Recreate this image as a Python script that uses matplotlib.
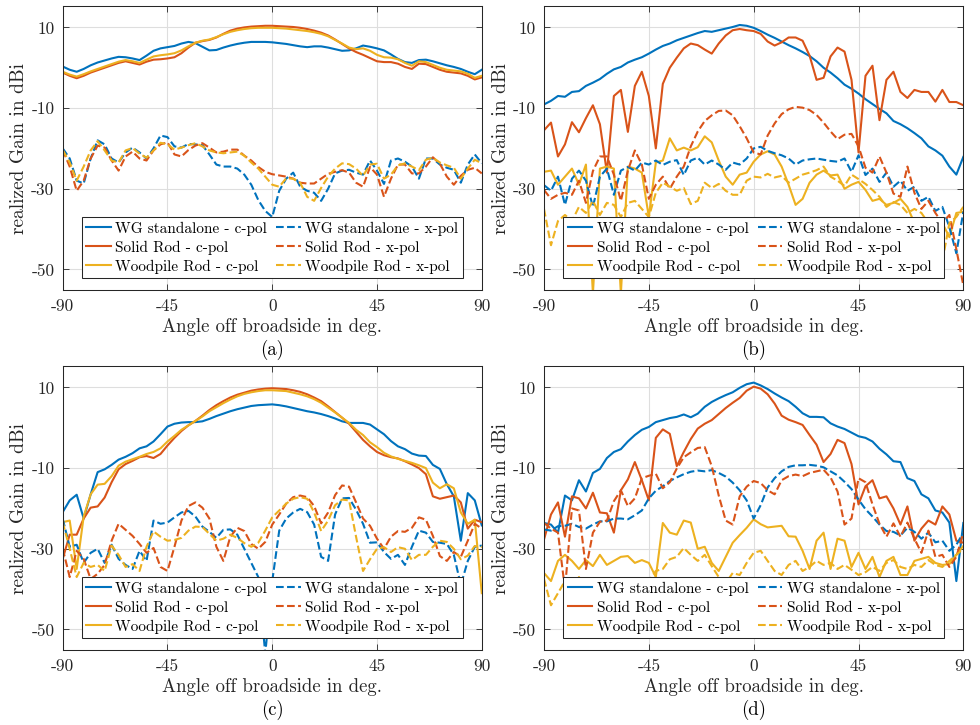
import numpy as np
import matplotlib
matplotlib.use("Agg")
import matplotlib.pyplot as plt

plt.rcParams['font.family'] = ['cmr10', 'DejaVu Serif']
plt.rcParams['mathtext.fontset'] = 'cm'
plt.rcParams['axes.unicode_minus'] = False
plt.rcParams['axes.formatter.use_mathtext'] = True

# angle grid (deg) shared by every curve
angle = np.arange(-90, 91, 3)

# ---- (a) ----
a_wg_c = [0.3, -0.5, -1.0, -0.3, 0.6, 1.3, 1.8, 2.3, 2.7, 2.6, 2.3, 1.9, 3.0, 4.2, 4.8, 5.1,
          5.4, 6.0, 6.4, 6.1, 5.2, 4.3, 4.4, 5.0, 5.5, 5.9, 6.2, 6.4, 6.4, 6.4, 6.3, 6.1,
          5.9, 5.6, 5.3, 5.1, 5.3, 5.3, 5.0, 4.6, 4.2, 4.3, 4.8, 5.5, 5.2, 4.8, 4.3, 3.3,
          2.2, 1.4, 1.2, 1.9, 2.0, 1.6, 1.1, 0.6, 0.2, -0.3, -1.0, -1.6, -0.5]
a_sr_c = [-1.2, -2.0, -2.6, -2.0, -1.2, -0.6, 0.0, 0.6, 1.2, 1.6, 1.2, 0.8, 1.5, 2.0, 2.1, 2.3,
          2.6, 3.6, 5.0, 6.2, 6.6, 6.9, 7.5, 8.4, 9.2, 9.7, 10.0, 10.2, 10.3, 10.4, 10.4, 10.3,
          10.2, 10.1, 9.9, 9.6, 9.2, 8.7, 8.0, 7.0, 5.9, 4.8, 3.9, 3.2, 2.4, 1.6, 1.4, 1.4,
          1.0, 0.2, -0.3, 1.0, 0.9, 0.2, -0.5, -1.0, -1.2, -1.4, -2.0, -2.9, -2.4]
a_wp_c = [-1.0, -1.7, -2.2, -1.6, -0.9, -0.3, 0.3, 0.9, 1.5, 1.9, 1.6, 1.2, 2.0, 2.8, 3.1, 3.3,
          3.6, 4.3, 5.3, 6.2, 6.7, 7.0, 7.6, 8.3, 8.9, 9.3, 9.6, 9.8, 9.9, 9.9, 9.9, 9.8,
          9.7, 9.5, 9.3, 9.1, 8.8, 8.4, 7.8, 6.9, 6.0, 5.0, 4.6, 4.8, 4.2, 3.2, 2.6, 2.5,
          2.1, 1.2, 0.5, 1.6, 1.4, 0.7, 0.0, -0.5, -0.7, -0.9, -1.5, -2.5, -2.0]
a_wg_x = [-20.0, -22.5, -28.0, -28.7, -22.5, -18.0, -19.0, -22.5, -23.5, -21.0, -19.8, -21.0, -22.5, -20.0, -16.8, -17.2,
          -19.5, -19.8, -18.9, -19.0, -19.2, -21.5, -24.0, -24.5, -24.5, -25.0, -26.5, -29.0, -32.8, -35.5, -37.0, -30.5,
          -27.5, -26.0, -29.5, -30.5, -31.0, -33.0, -30.0, -26.2, -25.5, -25.3, -26.0, -26.5, -23.0, -25.5, -28.8, -23.0,
          -22.5, -23.3, -24.5, -27.5, -22.5, -22.5, -24.0, -24.8, -25.3, -28.5, -24.0, -21.5, -23.7]
a_sr_x = [-20.4, -24.5, -30.5, -28.0, -22.5, -19.3, -19.8, -23.0, -25.5, -22.0, -20.8, -22.5, -23.0, -20.5, -19.0, -18.5,
          -21.5, -22.0, -20.4, -19.3, -18.7, -19.8, -21.0, -20.8, -20.3, -20.3, -21.8, -23.0, -24.6, -25.8, -26.4, -26.7,
          -27.0, -27.5, -28.5, -28.7, -28.7, -27.5, -26.3, -25.8, -25.4, -26.0, -28.5, -29.5, -24.6, -26.5, -32.0, -27.5,
          -24.0, -24.0, -26.2, -26.2, -24.5, -22.2, -23.8, -27.0, -29.0, -26.8, -25.3, -24.8, -26.2]
a_wp_x = [-20.4, -23.5, -28.0, -24.5, -20.5, -18.2, -20.5, -23.0, -23.5, -20.5, -19.9, -21.3, -22.3, -20.5, -18.6, -19.0,
          -20.3, -19.8, -19.2, -18.7, -19.5, -20.5, -21.0, -21.2, -21.0, -20.8, -21.8, -23.5, -25.0, -27.0, -29.0, -29.5,
          -27.4, -27.5, -28.5, -32.0, -33.0, -29.8, -27.0, -25.0, -23.7, -23.9, -25.0, -26.8, -24.0, -23.8, -27.5, -26.5,
          -24.2, -23.7, -24.5, -25.4, -22.8, -22.3, -23.5, -24.2, -24.8, -27.5, -25.0, -22.8, -23.7]

# ---- (b) ----
b_wg_c = [-9.1, -8.2, -7.0, -7.2, -6.0, -5.8, -4.5, -3.7, -2.8, -1.5, -0.4, 0.2, 1.3, 2.0, 2.6, 3.5,
          4.5, 5.4, 6.0, 6.8, 7.4, 8.0, 8.6, 9.1, 8.9, 9.3, 9.7, 10.1, 10.6, 10.4, 9.9, 9.1,
          8.2, 7.4, 6.5, 5.6, 4.8, 3.9, 2.9, 1.6, 0.0, -1.2, -2.6, -4.2, -5.2, -6.4, -7.8, -9.0,
          -10.2, -11.3, -13.2, -14.0, -15.0, -16.2, -17.5, -19.5, -20.5, -21.8, -24.5, -26.5, -22.1]
b_sr_c = [-15.5, -13.6, -22.0, -19.0, -13.5, -16.0, -12.5, -9.3, -14.0, -26.0, -7.0, -5.5, -15.9, -4.5, -1.0, -7.0,
          -20.0, -4.0, 0.0, 2.5, 4.8, 6.0, 5.6, 4.5, 3.5, 6.0, 8.0, 9.3, 9.6, 9.3, 9.1, 8.4,
          6.5, 5.5, 6.3, 7.5, 7.5, 6.7, 3.0, -3.0, -2.5, 2.8, 5.0, 4.0, -3.0, -21.0, -2.0, 0.5,
          -13.0, -3.0, -1.0, -6.0, -7.5, -5.5, -6.0, -6.0, -8.4, -5.5, -8.5, -8.5, -9.3]
b_wp_c = [-25.8, -25.5, -29.0, -27.0, -25.0, -29.0, -24.0, -56.0, -25.0, -24.5, -25.0, -56.0, -24.5, -25.0, -26.0, -37.0,
          -23.5, -23.0, -17.5, -20.5, -19.8, -20.5, -19.7, -17.0, -18.5, -23.0, -27.0, -29.0, -26.5, -26.0, -23.3, -21.5,
          -20.7, -21.5, -24.5, -29.0, -34.0, -32.5, -28.5, -26.5, -25.5, -26.7, -26.5, -30.0, -29.0, -28.3, -30.3, -33.0,
          -32.5, -34.0, -33.5, -32.5, -34.5, -38.5, -40.0, -39.0, -41.5, -38.5, -42.0, -36.0, -35.7]
b_wg_x = [-29.1, -30.5, -27.0, -34.0, -27.5, -25.5, -28.0, -34.5, -27.0, -25.0, -31.5, -25.5, -24.6, -25.5, -23.5, -24.0,
          -23.0, -24.1, -23.3, -22.9, -26.6, -23.0, -22.3, -24.0, -23.0, -24.0, -25.3, -23.5, -24.0, -22.5, -20.0, -19.6,
          -20.6, -21.2, -21.7, -22.5, -24.0, -23.0, -22.7, -22.5, -22.8, -23.1, -23.3, -22.5, -25.8, -21.7, -26.6, -25.0,
          -28.3, -26.0, -29.5, -28.0, -30.5, -29.5, -33.0, -32.0, -35.5, -34.5, -39.5, -46.0, -35.7]
b_sr_x = [-30.3, -32.5, -31.5, -31.0, -31.5, -28.0, -33.5, -25.6, -22.0, -22.0, -26.5, -33.0, -25.5, -20.5, -24.0, -32.5,
          -29.0, -27.0, -30.0, -27.0, -24.5, -19.5, -15.8, -13.2, -11.8, -10.7, -10.6, -11.8, -14.5, -17.5, -21.0, -21.5,
          -16.8, -13.8, -11.5, -10.3, -9.7, -9.9, -10.5, -11.7, -13.6, -15.8, -17.7, -16.6, -16.4, -19.5, -24.8, -26.0,
          -22.0, -26.0, -31.2, -32.0, -24.5, -31.0, -35.0, -33.0, -36.0, -38.5, -36.5, -45.0, -54.0]
b_wp_x = [-35.0, -44.0, -38.0, -36.5, -38.0, -34.5, -36.0, -33.0, -36.5, -33.5, -34.0, -37.0, -33.5, -33.0, -35.0, -37.0,
          -31.0, -28.5, -29.5, -30.5, -29.8, -33.8, -33.0, -28.5, -29.8, -28.8, -30.5, -31.5, -31.5, -28.0, -27.0, -27.2,
          -26.3, -27.2, -26.8, -28.5, -27.5, -26.5, -26.0, -25.4, -24.5, -27.0, -28.0, -29.3, -26.5, -27.6, -28.8, -30.3,
          -32.0, -34.5, -33.3, -34.0, -36.0, -35.0, -36.0, -38.5, -42.0, -48.0, -38.5, -37.0, -34.5]

# ---- (c) ----
c_wg_c = [-20.9, -18.0, -16.6, -22.5, -16.5, -11.0, -10.3, -9.2, -7.9, -7.2, -6.3, -5.1, -4.6, -3.4, -1.6, 0.3,
          1.0, 1.3, 1.4, 1.4, 1.6, 2.2, 2.9, 3.5, 4.1, 4.6, 5.0, 5.4, 5.6, 5.7, 5.8, 5.6,
          5.3, 4.9, 4.5, 4.1, 3.8, 3.4, 2.9, 2.3, 1.6, 1.2, 1.2, 1.2, 0.8, -0.4, -1.6, -3.3,
          -4.6, -5.3, -6.4, -6.9, -7.0, -9.2, -10.2, -14.0, -17.0, -28.0, -16.2, -18.0, -24.2]
c_sr_c = [-32.5, -26.5, -26.5, -22.5, -19.8, -19.5, -17.3, -13.5, -10.3, -9.0, -8.2, -7.3, -7.0, -7.5, -6.5, -4.4,
          -2.5, -0.8, 0.6, 1.7, 3.0, 4.4, 5.6, 6.6, 7.5, 8.2, 8.7, 9.2, 9.5, 9.7, 9.8, 9.7,
          9.6, 9.3, 8.9, 8.3, 7.5, 6.6, 5.3, 3.9, 2.5, 1.0, -1.0, -3.0, -4.6, -6.0, -6.8, -7.3,
          -7.6, -8.3, -9.1, -10.0, -11.5, -17.0, -17.6, -17.2, -16.8, -18.5, -25.0, -22.8, -23.4]
c_wp_c = [-23.4, -23.0, -35.0, -22.0, -16.5, -14.1, -13.9, -12.0, -9.4, -8.4, -7.8, -7.2, -6.5, -6.0, -5.1, -3.4,
          -2.0, -0.5, 0.6, 1.7, 2.8, 4.1, 5.1, 6.1, 7.0, 7.8, 8.4, 8.8, 9.1, 9.3, 9.3, 9.2,
          9.1, 8.7, 8.3, 7.8, 7.1, 6.2, 5.0, 3.8, 2.5, 1.2, -0.5, -1.8, -3.6, -4.8, -6.2, -7.1,
          -7.7, -8.2, -8.7, -9.3, -10.0, -13.6, -15.0, -14.0, -15.0, -21.0, -23.8, -22.8, -41.0]
c_wg_x = [-22.6, -29.5, -29.0, -33.5, -31.0, -30.0, -33.5, -29.0, -32.5, -34.0, -35.0, -30.5, -33.0, -23.0, -23.8, -23.5,
          -22.2, -21.0, -20.6, -22.0, -24.5, -25.8, -27.3, -25.3, -25.2, -26.5, -30.0, -33.5, -37.0, -56.0, -38.0, -25.5,
          -22.5, -21.0, -20.1, -20.9, -24.0, -32.0, -33.0, -21.5, -17.5, -17.4, -20.3, -23.8, -28.5, -28.4, -30.8, -32.5,
          -31.5, -34.0, -29.5, -25.5, -26.0, -28.3, -28.5, -28.8, -31.5, -39.0, -33.0, -29.5, -29.2]
c_sr_x = [-30.0, -37.0, -30.5, -32.5, -37.5, -36.2, -34.0, -28.0, -23.8, -25.3, -26.8, -28.8, -31.0, -29.8, -34.5, -35.5,
          -29.5, -23.0, -19.4, -18.5, -19.8, -22.5, -29.5, -33.0, -27.0, -24.8, -25.6, -28.8, -30.0, -28.3, -24.0, -21.5,
          -18.8, -17.2, -16.8, -17.2, -19.4, -23.7, -21.0, -16.7, -14.3, -14.6, -18.5, -22.5, -24.3, -27.5, -30.0, -27.0,
          -25.6, -25.8, -24.8, -22.2, -22.8, -26.8, -31.8, -33.0, -30.8, -32.0, -28.0, -23.8, -25.0]
c_wp_x = [-23.4, -30.0, -37.0, -33.5, -34.5, -34.0, -35.5, -29.2, -31.5, -34.5, -33.8, -35.5, -29.5, -25.7, -27.0, -28.0,
          -27.8, -27.3, -25.5, -24.5, -24.6, -26.3, -28.0, -27.5, -26.5, -27.3, -28.6, -29.5, -28.5, -25.5, -22.2, -20.5,
          -18.8, -17.6, -17.2, -17.6, -21.0, -25.6, -23.0, -19.2, -17.8, -18.0, -27.0, -35.5, -32.6, -30.0, -29.6, -30.8,
          -29.6, -30.0, -32.8, -31.5, -31.5, -29.5, -28.0, -28.3, -30.0, -32.6, -31.7, -29.3, -29.6]

# ---- (d) ----
d_wg_c = [-23.6, -24.0, -26.0, -16.8, -18.0, -13.0, -15.8, -11.2, -10.2, -7.5, -6.0, -5.3, -3.4, -1.8, -0.5, 0.2,
          1.4, 1.9, 2.4, 2.7, 3.3, 2.6, 3.5, 5.2, 6.4, 7.3, 8.1, 8.8, 9.9, 10.8, 11.2, 10.5,
          9.6, 8.5, 7.5, 6.6, 5.2, 3.6, 2.7, 2.7, 2.6, 1.1, 0.3, -0.3, -1.2, -2.1, -2.5, -3.4,
          -5.2, -6.6, -8.3, -8.5, -12.5, -13.2, -16.5, -17.5, -20.5, -21.0, -23.5, -38.0, -23.6]
d_sr_c = [-27.7, -21.5, -18.5, -27.0, -17.0, -17.5, -20.0, -16.1, -21.0, -21.2, -26.0, -15.5, -12.8, -8.5, -13.0, -18.0,
          -2.5, -0.4, -1.5, -9.5, -6.0, -2.8, -0.2, 1.0, 1.9, 3.4, 4.9, 6.2, 7.4, 9.2, 10.2, 9.7,
          8.3, 6.0, 3.0, 2.0, 1.4, 0.7, -1.8, -4.2, -8.5, -6.5, -3.0, -3.8, -9.0, -19.0, -14.5, -13.0,
          -17.5, -17.0, -20.0, -24.0, -19.5, -28.0, -25.0, -23.0, -24.0, -19.5, -21.5, -28.0, -28.5]
d_wp_c = [-36.0, -38.0, -33.0, -31.5, -33.0, -35.0, -32.8, -34.3, -31.5, -34.0, -33.0, -32.0, -31.8, -33.5, -32.8, -33.5,
          -37.0, -23.6, -26.0, -26.5, -23.0, -23.5, -30.0, -29.5, -33.5, -35.5, -32.0, -28.5, -26.6, -24.8, -22.7, -23.9,
          -24.7, -24.5, -24.3, -26.9, -27.0, -30.5, -35.0, -28.0, -26.0, -35.0, -27.5, -28.0, -34.5, -31.0, -35.0, -32.0,
          -37.0, -33.0, -32.0, -36.5, -36.5, -33.0, -32.5, -32.0, -33.5, -34.0, -33.8, -31.5, -29.3]
d_wg_x = [-25.2, -25.5, -24.4, -24.3, -23.8, -24.6, -25.0, -24.0, -23.2, -23.2, -22.5, -22.5, -22.7, -21.7, -20.5, -17.5,
          -15.6, -14.5, -13.2, -12.3, -11.5, -10.9, -10.6, -10.8, -10.5, -11.2, -12.1, -13.6, -15.5, -18.0, -22.5, -19.2,
          -14.8, -12.5, -10.8, -9.7, -9.3, -9.3, -9.2, -9.4, -9.8, -10.8, -11.8, -13.4, -15.2, -17.8, -20.2, -22.0,
          -24.0, -25.6, -25.8, -26.7, -24.8, -25.8, -27.5, -26.0, -28.4, -28.0, -30.5, -29.0, -26.0]
d_sr_x = [-23.6, -25.0, -26.0, -40.0, -20.0, -20.5, -35.0, -26.0, -23.3, -23.0, -18.2, -15.5, -19.4, -17.5, -12.5, -11.9,
          -11.4, -15.0, -13.5, -10.1, -7.3, -6.1, -5.0, -4.8, -9.5, -16.8, -23.0, -24.0, -17.0, -14.6, -13.2, -13.7,
          -15.5, -16.5, -13.0, -12.0, -11.6, -12.0, -11.2, -10.8, -10.4, -12.3, -15.8, -24.0, -22.5, -12.5, -13.5, -19.0,
          -23.8, -27.0, -23.7, -27.0, -23.5, -27.5, -31.0, -25.5, -32.0, -31.5, -34.5, -32.0, -26.0]
d_wp_x = [-37.5, -44.0, -41.0, -38.0, -42.0, -37.0, -40.0, -38.0, -42.0, -39.0, -41.0, -38.5, -43.0, -39.0, -41.0, -38.0,
          -35.5, -35.0, -32.6, -32.0, -29.8, -31.5, -33.0, -31.5, -34.3, -37.0, -38.5, -36.0, -36.5, -33.5, -31.0, -30.5,
          -33.0, -35.5, -36.5, -34.0, -33.0, -35.5, -34.5, -33.0, -34.0, -33.5, -35.0, -34.0, -35.2, -36.5, -35.8, -34.5,
          -35.5, -33.5, -32.8, -34.5, -35.0, -34.0, -34.5, -32.8, -34.0, -34.5, -33.0, -31.5, -30.0]

names = ['WG standalone - c-pol', 'Solid Rod - c-pol', 'Woodpile Rod - c-pol',
         'WG standalone - x-pol', 'Solid Rod - x-pol', 'Woodpile Rod - x-pol']
colors = ['#0072BD', '#D95319', '#EDB120']

panels = [
    ('(a)', [0.064, 0.6, 0.4276, 0.3917], [a_wg_c, a_sr_c, a_wp_c, a_wg_x, a_sr_x, a_wp_x]),
    ('(b)', [0.5551, 0.6, 0.4279, 0.3917], [b_wg_c, b_sr_c, b_wp_c, b_wg_x, b_sr_x, b_wp_x]),
    ('(c)', [0.064, 0.1034, 0.4276, 0.3917], [c_wg_c, c_sr_c, c_wp_c, c_wg_x, c_sr_x, c_wp_x]),
    ('(d)', [0.5551, 0.1034, 0.4279, 0.3917], [d_wg_c, d_sr_c, d_wp_c, d_wg_x, d_sr_x, d_wp_x]),
]

fig = plt.figure(figsize=(9.8, 7.25), dpi=100)

for tag, pos, curves in panels:
    ax = fig.add_axes(pos)
    for k, y in enumerate(curves):
        ls = '-' if k < 3 else '--'
        ax.plot(angle, y, color=colors[k % 3], lw=1.5, ls=ls, label=names[k])

    ax.set_xlim(-90, 90)
    ax.set_ylim(-55.1, 15.3)
    ax.set_xticks([-90, -45, 0, 45, 90])
    ax.set_xticklabels(['-90', '-45', '0', '45', '90'])
    ax.set_yticks([10, -10, -30, -50])
    ax.set_yticklabels(['10', '-10', '-30', '-50'])
    ax.tick_params(direction='in', top=True, right=True, length=4, width=0.6,
                   color='#262626', labelcolor='#262626', labelsize=12.5, pad=6)
    ax.grid(True, color='#dedede', lw=0.8)
    ax.set_axisbelow(True)
    for sp in ax.spines.values():
        sp.set_color('#262626')
        sp.set_linewidth(0.75)

    ax.set_xlabel('Angle off broadside in deg.', fontsize=13.5, color='#262626', labelpad=3)
    ax.set_ylabel('realized Gain in dBi', fontsize=14, color='#262626', labelpad=2)

    leg = ax.legend(ncol=2, loc='lower center', bbox_to_anchor=(0.5, 0.041), fontsize=11,
                    frameon=True, fancybox=False, framealpha=1, edgecolor='#262626',
                    handlelength=1.6, handletextpad=0.3, columnspacing=0.6,
                    labelspacing=0.32, borderpad=0.3, borderaxespad=0)
    leg.get_frame().set_linewidth(0.75)

    bb = ax.get_position()
    fig.text(bb.x0 + bb.width / 2, bb.y0 - 0.083, tag, ha='center', va='center',
             fontsize=13.5, color='black')

fig.savefig('out.png', dpi=100)
